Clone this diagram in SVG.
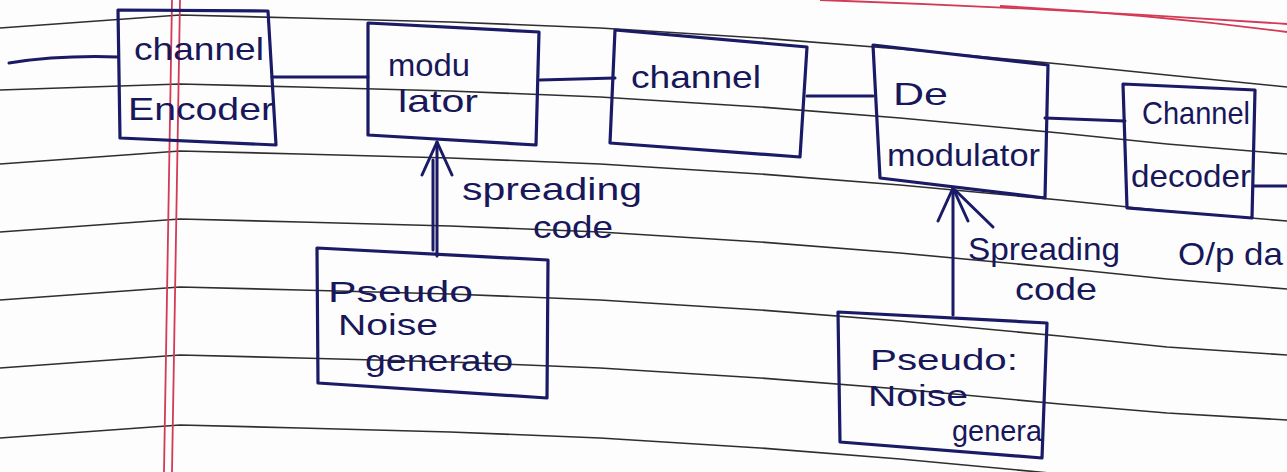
<svg xmlns="http://www.w3.org/2000/svg" width="1287" height="472" viewBox="0 0 1287 472">
<style>
.rule{fill:none;stroke:#2e2e2e;stroke-width:1.6;stroke-linejoin:round}
.red{fill:none;stroke:#d23a55;stroke-width:1.8}
.box{fill:none;stroke:#1a1a66;stroke-width:3.2;stroke-linejoin:round;stroke-linecap:round}
.conn{fill:none;stroke:#1a1a66;stroke-width:3;stroke-linecap:round}
.t{font-family:"Liberation Sans",Arial,sans-serif;font-size:32px;fill:#17175a}
.s{font-size:29px}
</style>
<defs>
<marker id="vhead" markerUnits="userSpaceOnUse" markerWidth="44" markerHeight="44" viewBox="-40 -22 44 44" refX="0" refY="0" orient="auto" overflow="visible">
<path d="M-33,-15 L0,0 L-33,15" fill="none" stroke="#1a1a66" stroke-width="3" stroke-linecap="round" stroke-linejoin="round"/>
</marker>
</defs>
<rect width="1287" height="472" fill="#fdfdfd"/>
<g id="paper">
<polyline class="rule" points="0,28 180,15 300,18 450,22 600,28 760,38 900,49 1060,64 1167,75 1287,87"/>
<polyline class="rule" points="0,90 180,84 300,87 450,91 600,97 760,107 900,118 1060,133 1167,144 1287,154"/>
<polyline class="rule" points="0,164 180,151 300,154 450,158 600,164 760,174 900,185 1060,200 1167,211 1287,221"/>
<polyline class="rule" points="0,232 180,219 300,222 450,226 600,232 760,242 900,253 1060,268 1167,279 1287,289"/>
<polyline class="rule" points="0,300 180,287 300,290 450,294 600,300 760,310 900,321 1060,336 1167,347 1287,355"/>
<polyline class="rule" points="0,368 180,355 300,358 450,362 600,368 760,378 900,389 1060,404 1167,413 1287,420"/>
<polyline class="rule" points="0,438 180,425 300,428 450,432 600,438 760,448 900,459 1060,474 1167,485 1287,495"/>
<line class="red" x1="172" y1="0" x2="164" y2="472"/>
<line class="red" x1="180" y1="0" x2="172" y2="472"/>
<path class="red" d="M820,0 Q1050,8 1287,24" stroke-width="2.4"/>
<path class="red" d="M1000,6 Q1150,14 1287,32"/>
</g>
<g id="connectors">
<path class="conn" d="M9,63 Q60,55 118,57"/>
<path class="conn" d="M272,77 L368,77"/>
<path class="conn" d="M540,80 L615,78"/>
<path class="conn" d="M807,96 L873,96"/>
<path class="conn" d="M1045,118 L1125,121"/>
<path class="conn" d="M1254,186 L1287,186"/>
<path class="conn" d="M437,256 L437,142" marker-end="url(#vhead)"/>
<path class="conn" d="M433,250 L433,160" stroke-width="1.6"/>
<path class="conn" d="M953,315 L953,188" marker-end="url(#vhead)"/>
<path class="conn" d="M955,190 L993,227" stroke-width="2.2"/>
</g>
<g id="channel-encoder">
<path class="box" d="M118,10 L268,11 L276,145 L120,138 Z"/>
<text class="t" x="134" y="60" textLength="130" lengthAdjust="spacingAndGlyphs">channel</text>
<text class="t" x="128" y="120" textLength="146" lengthAdjust="spacingAndGlyphs">Encoder</text>
</g>
<g id="modulator">
<path class="box" d="M368,23 L539,32 L536,145 L368,135 Z"/>
<text class="t" x="388" y="76" textLength="82" lengthAdjust="spacingAndGlyphs">modu</text>
<text class="t" x="398" y="112" textLength="80" lengthAdjust="spacingAndGlyphs">lator</text>
</g>
<g id="channel">
<path class="box" d="M615,30 L807,47 L800,157 L610,143 Z"/>
<text class="t" x="631" y="88" textLength="130" lengthAdjust="spacingAndGlyphs">channel</text>
</g>
<g id="demodulator">
<path class="box" d="M873,45 L1048,65 L1045,198 L880,178 Z"/>
<text class="t" x="893" y="105" textLength="55" lengthAdjust="spacingAndGlyphs">De</text>
<text class="t" x="887" y="166" textLength="153" lengthAdjust="spacingAndGlyphs">modulator</text>
</g>
<g id="channel-decoder">
<path class="box" d="M1123,84 L1255,90 L1252,218 L1127,208 Z"/>
<text class="t" x="1142" y="124" textLength="108" lengthAdjust="spacingAndGlyphs">Channel</text>
<text class="t" x="1131" y="187" textLength="120" lengthAdjust="spacingAndGlyphs">decoder</text>
</g>
<g id="pn-generator-1">
<path class="box" d="M317,248 L548,260 L547,398 L318,383 Z"/>
<text class="t s" x="328" y="302" textLength="145" lengthAdjust="spacingAndGlyphs">Pseudo</text>
<text class="t s" x="338" y="335" textLength="100" lengthAdjust="spacingAndGlyphs">Noise</text>
<text class="t s" x="365" y="371" textLength="148" lengthAdjust="spacingAndGlyphs">generato</text>
</g>
<g id="pn-generator-2">
<path class="box" d="M838,312 L1047,323 L1042,458 L840,442 Z"/>
<text class="t s" x="870" y="370" textLength="148" lengthAdjust="spacingAndGlyphs">Pseudo:</text>
<text class="t s" x="868" y="406" textLength="100" lengthAdjust="spacingAndGlyphs">Noise</text>
<text class="t s" x="952" y="441" textLength="90" lengthAdjust="spacingAndGlyphs">genera</text>
</g>
<g id="labels">
<text class="t" x="462" y="200" textLength="180" lengthAdjust="spacingAndGlyphs">spreading</text>
<text class="t" x="533" y="238" textLength="80" lengthAdjust="spacingAndGlyphs">code</text>
<text class="t" x="968" y="260" textLength="152" lengthAdjust="spacingAndGlyphs">Spreading</text>
<text class="t" x="1015" y="300" textLength="82" lengthAdjust="spacingAndGlyphs">code</text>
<text class="t" x="1178" y="265" textLength="105" lengthAdjust="spacingAndGlyphs">O/p da</text>
</g>
</svg>
